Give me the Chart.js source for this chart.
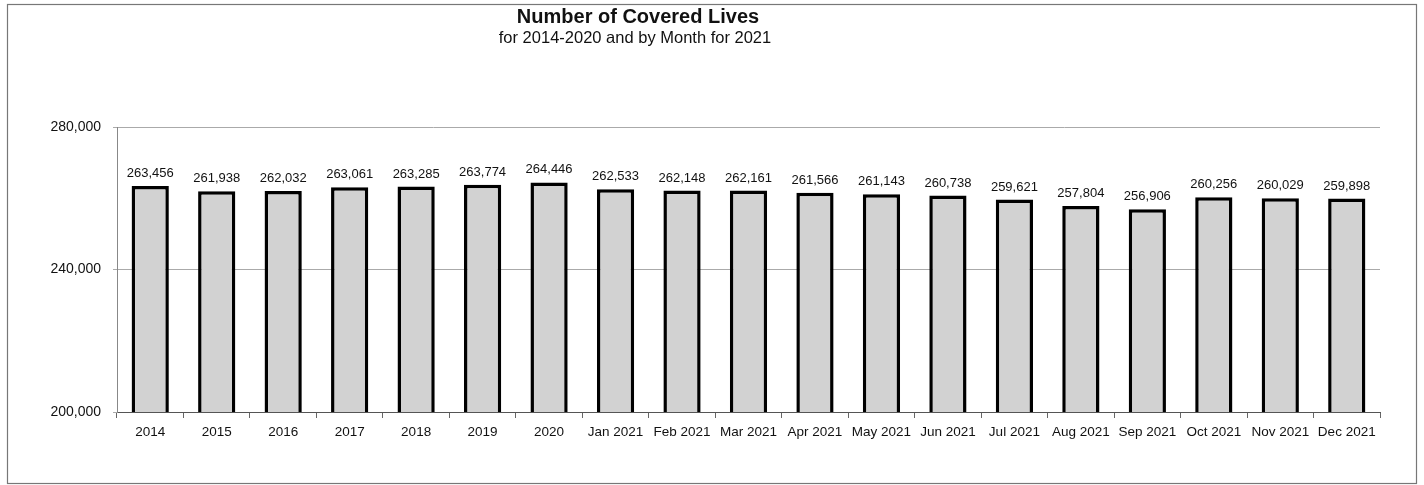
<!DOCTYPE html>
<html>
<head>
<meta charset="utf-8">
<script src="https://cdn.jsdelivr.net/npm/chart.js@4/dist/chart.umd.min.js"></script>
<style>
  html, body { margin: 0; padding: 0; background: #fff; }
  #wrap { width: 1424px; height: 485px; position: relative; }
</style>
</head>
<body>
<div id="wrap"><canvas id="livesChart" width="1424" height="485"></canvas></div>
<script>
const categories = [
  "2014", "2015", "2016", "2017", "2018", "2019", "2020",
  "Jan 2021", "Feb 2021", "Mar 2021", "Apr 2021", "May 2021", "Jun 2021",
  "Jul 2021", "Aug 2021", "Sep 2021", "Oct 2021", "Nov 2021", "Dec 2021",
];
const coveredLives = [
  263456, 261938, 262032, 263061, 263285, 263774, 264446,
  262533, 262148, 262161, 261566, 261143, 260738,
  259621, 257804, 256906, 260256, 260029, 259898,
];
const yTicks = [200000, 240000, 280000];

const FONT = "'Liberation Sans', Arial, sans-serif";

// frame + title, drawn straight on the canvas
const framePlugin = {
  id: "frame",
  beforeDraw(chart) {
    const ctx = chart.ctx;
    ctx.save();
    ctx.fillStyle = "#fff";
    ctx.fillRect(0, 0, chart.width, chart.height);
    ctx.strokeStyle = "#777";
    ctx.lineWidth = 1.2;
    ctx.strokeRect(7.5, 4.5, 1409, 479);
    ctx.fillStyle = "#111";
    ctx.textAlign = "center";
    ctx.textBaseline = "middle";
    ctx.font = `bold 20px ${FONT}`;
    ctx.fillText("Number of Covered Lives", 638, 17);
    ctx.font = `16.5px ${FONT}`;
    ctx.fillText("for 2014-2020 and by Month for 2021", 635, 38);
    ctx.restore();
  },
};

// value labels above every bar
const valueLabels = {
  id: "valueLabels",
  afterDatasetsDraw(chart) {
    const ctx = chart.ctx;
    const meta = chart.getDatasetMeta(0);
    ctx.save();
    ctx.fillStyle = "#111";
    ctx.font = `13px ${FONT}`;
    ctx.textAlign = "center";
    ctx.textBaseline = "alphabetic";
    meta.data.forEach((bar, i) => {
      ctx.fillText(coveredLives[i].toLocaleString("en-US"), bar.x, bar.y - 9);
    });
    ctx.restore();
  },
};

new Chart(document.getElementById("livesChart"), {
  type: "bar",
  data: {
    labels: categories,
    datasets: [
      {
        data: coveredLives,
        backgroundColor: "#d2d2d2",
        borderColor: "#000",
        borderWidth: 3.5,
        borderSkipped: false,
        barPercentage: 0.56,
        categoryPercentage: 1,
      },
    ],
  },
  options: {
    responsive: false,
    animation: false,
    layout: { padding: { top: 127, right: 44, left: 0, bottom: 0 } },
    plugins: {
      legend: { display: false },
      title: { display: false },
      tooltip: { enabled: false },
    },
    scales: {
      x: {
        afterFit: (s) => { s.height = 73; },
        ticks: { color: "#111", font: { family: FONT, size: 13.5 }, padding: 6, maxRotation: 0, autoSkip: false },
        grid: { offset: true, drawOnChartArea: false, drawTicks: true, tickLength: 6, color: "#666" },
        border: { color: "#555", width: 1 },
      },
      y: {
        min: 200000,
        max: 280000,
        afterFit: (s) => { s.width = 117; },
        afterBuildTicks: (s) => { s.ticks = yTicks.map((v) => ({ value: v })); },
        ticks: {
          color: "#111",
          font: { family: FONT, size: 14 },
          padding: 12,
          callback: (v) => v.toLocaleString("en-US"),
        },
        grid: { color: "#aaa", lineWidth: 1, tickLength: 4 },
        border: { color: "#888", width: 1 },
      },
    },
  },
  plugins: [framePlugin, valueLabels],
});
</script>
</body>
</html>
